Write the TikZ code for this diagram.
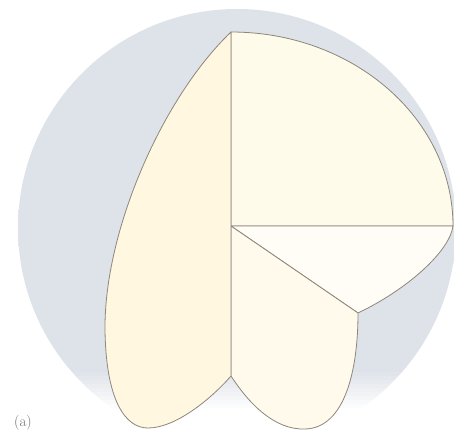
\documentclass[tikz,border=0pt]{standalone}
\usetikzlibrary{calc}
\definecolor{bgA}{RGB}{222,226,233}
\definecolor{bgB}{RGB}{200,207,218}
\definecolor{lineC}{RGB}{140,134,124}
\definecolor{creamA}{RGB}{255,247,224}
\definecolor{creamB}{RGB}{255,251,234}
\definecolor{creamC}{RGB}{255,253,245}
\definecolor{creamD}{RGB}{255,250,236}
\definecolor{labelC}{RGB}{110,110,110}
\pgfdeclareradialshading{bgshade}{\pgfpoint{0bp}{0bp}}{color(0bp)=(bgA); color(30bp)=(bgA); color(50bp)=(bgB)}
\tikzset{
  region/.style={draw=lineC, line width=0.8pt, line join=round},
}
\begin{document}
\begin{tikzpicture}[x=1pt,y=-1pt]
\useasboundingbox (0,0) rectangle (454,445);
\fill[white] (0,0) rectangle (454,445);
% background disc, fading out towards the bottom
\begin{scope}
  \clip (0,0) rectangle (454,425);
  \shade[shading=bgshade] (237,228) circle (219);
  \foreach \k in {1,...,9}{
    \fill[white, fill opacity=\k/10] (0,{368+4*\k}) rectangle (454,{372+4*\k});
  }
\end{scope}
\fill[white] (0,407.5) rectangle (454,445);
% key points
\coordinate (T) at (231,32);
\coordinate (O) at (231,226);
\coordinate (R) at (453,226);
\coordinate (P) at (358,313);
\coordinate (V) at (231,376);
\coordinate (LB) at (148,428);
\coordinate (LM) at (105,330);
\coordinate (DB) at (305,429);
% top-right quarter
\filldraw[region, fill=creamB] (O) -- (T) arc[start angle=90, end angle=0, x radius=222, y radius=-194] -- cycle;
% wedge
\filldraw[region, fill=creamC] (O) -- (R) .. controls (450,250) and (410,288) .. (P) -- cycle;
% lower lobe
\filldraw[region, fill=creamD] (O) -- (P)
  .. controls (358,370) and (345,428) .. (DB)
  .. controls (275,430) and (250,405) .. (V) -- cycle;
% left lobe
\filldraw[region, fill=creamA] (T) -- (V)
  .. controls (210,400) and (175,428) .. (LB)
  .. controls (125,428) and (106,400) .. (LM)
  .. controls (104,230) and (163,97) .. (T) -- cycle;
% label
\node[text=labelC, font=\fontsize{15}{15}\selectfont, inner sep=0pt] (lab) at (23,423) {(a)};
\end{tikzpicture}
\end{document}
